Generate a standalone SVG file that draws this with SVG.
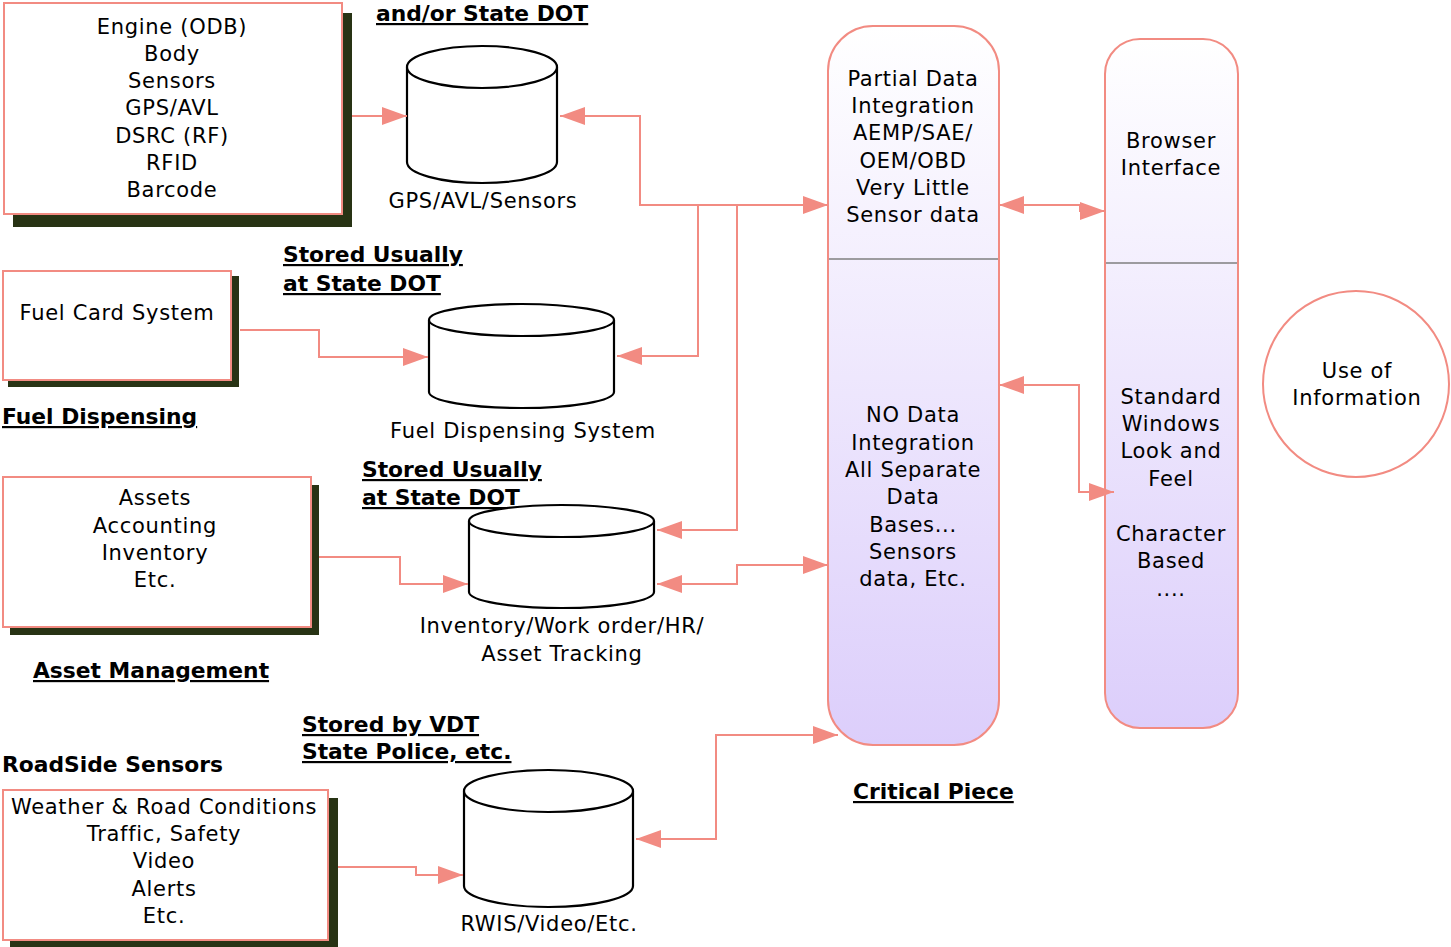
<svg xmlns="http://www.w3.org/2000/svg" width="1451" height="947" viewBox="0 0 1451 947">
  <style>
    .t { font-family: "DejaVu Sans", Verdana, sans-serif; font-size: 21px; letter-spacing: 0.7px; fill: #000; text-anchor: middle; }
    .h { font-family: "DejaVu Sans", Verdana, sans-serif; font-size: 21.8px; font-weight: bold; fill: #000; }
    .u { text-decoration: underline; }
    .box { fill: #fff; stroke: #f28b82; stroke-width: 2; }
    .shadow { fill: #283314; }
    .cyl { fill: #fff; stroke: #000; stroke-width: 2.2; }
    .col { fill: url(#colGrad); stroke: #f28b82; stroke-width: 2; }
    .div { stroke: #7f7f7f; stroke-width: 1.5; }
    .link { fill: none; stroke: #f28b82; stroke-width: 2; }
  </style>
  <defs>
    <linearGradient id="colGrad" x1="0" y1="0" x2="0" y2="1">
      <stop offset="0" stop-color="#ffffff"/>
      <stop offset="1" stop-color="#dccefb"/>
    </linearGradient>
    <marker id="arr" markerUnits="userSpaceOnUse" markerWidth="26" markerHeight="20" refX="25" refY="10" orient="auto-start-reverse">
      <path d="M0,1 L25,10 L0,19 z" fill="#f28b82"/>
    </marker>
  </defs>

  <rect width="1451" height="947" fill="#fff"/>

  <!-- vehicle data sources -->
  <g id="engine-box">
    <rect class="shadow" x="13" y="13" width="339" height="214"/>
    <rect class="box" x="4" y="3" width="338" height="211"/>
    <text class="t" x="172" y="34">Engine (ODB)</text>
    <text class="t" x="172" y="61">Body</text>
    <text class="t" x="172" y="88">Sensors</text>
    <text class="t" x="172" y="115">GPS/AVL</text>
    <text class="t" x="172" y="143">DSRC (RF)</text>
    <text class="t" x="172" y="170">RFID</text>
    <text class="t" x="172" y="197">Barcode</text>
  </g>

  <g id="fuel-card-box">
    <rect class="shadow" x="8" y="276" width="231" height="111"/>
    <rect class="box" x="3" y="271" width="228" height="109"/>
    <text class="t" x="117" y="320">Fuel Card System</text>
  </g>

  <g id="assets-box">
    <rect class="shadow" x="10" y="485" width="309" height="150"/>
    <rect class="box" x="3" y="477" width="308" height="150"/>
    <text class="t" x="155" y="505">Assets</text>
    <text class="t" x="155" y="533">Accounting</text>
    <text class="t" x="155" y="560">Inventory</text>
    <text class="t" x="155" y="587">Etc.</text>
  </g>

  <g id="roadside-box">
    <rect class="shadow" x="10" y="798" width="328" height="149"/>
    <rect class="box" x="3" y="790" width="325" height="150"/>
    <text class="t" x="164" y="814">Weather &amp; Road Conditions</text>
    <text class="t" x="164" y="841">Traffic, Safety</text>
    <text class="t" x="164" y="868">Video</text>
    <text class="t" x="164" y="896">Alerts</text>
    <text class="t" x="164" y="923">Etc.</text>
  </g>

  <!-- headings -->
  <g id="headings">
    <text class="h u" x="376" y="21">and/or State DOT</text>
    <text class="h u" x="283" y="262">Stored Usually</text>
    <text class="h u" x="283" y="291">at State DOT</text>
    <text class="h u" x="2" y="424">Fuel Dispensing</text>
    <text class="h u" x="362" y="477">Stored Usually</text>
    <text class="h u" x="362" y="505">at State DOT</text>
    <text class="h u" x="33" y="678">Asset Management</text>
    <text class="h u" x="302" y="732">Stored by VDT</text>
    <text class="h u" x="302" y="759">State Police, etc.</text>
    <text class="h" x="2" y="772">RoadSide Sensors</text>
    <text class="h u" x="853" y="799">Critical Piece</text>
  </g>

  <!-- data stores -->
  <g id="db-gps">
    <path class="cyl" d="M407,67 V162 A75,21 0 0 0 557,162 V67"/>
    <ellipse class="cyl" cx="482" cy="67" rx="75" ry="21"/>
    <text class="t" x="483" y="208">GPS/AVL/Sensors</text>
  </g>

  <g id="db-fuel">
    <path class="cyl" d="M429,320 V392 A92.5,16 0 0 0 614,392 V320"/>
    <ellipse class="cyl" cx="521.5" cy="320" rx="92.5" ry="16"/>
    <text class="t" x="523" y="438">Fuel Dispensing System</text>
  </g>

  <g id="db-inventory">
    <path class="cyl" d="M469,521 V592 A92.5,16 0 0 0 654,592 V521"/>
    <ellipse class="cyl" cx="561.5" cy="521" rx="92.5" ry="16"/>
    <text class="t" x="562" y="633">Inventory/Work order/HR/</text>
    <text class="t" x="562" y="661">Asset Tracking</text>
  </g>

  <g id="db-rwis">
    <path class="cyl" d="M464,791 V886 A84.5,21 0 0 0 633,886 V791"/>
    <ellipse class="cyl" cx="548.5" cy="791" rx="84.5" ry="21"/>
    <text class="t" x="549" y="931">RWIS/Video/Etc.</text>
  </g>

  <!-- integration column -->
  <g id="integration">
    <rect class="col" x="828" y="26" width="171" height="719" rx="45" ry="45"/>
    <line class="div" x1="829" y1="259" x2="998" y2="259"/>
    <text class="t" x="913" y="86">Partial Data</text>
    <text class="t" x="913" y="113">Integration</text>
    <text class="t" x="913" y="140">AEMP/SAE/</text>
    <text class="t" x="913" y="168">OEM/OBD</text>
    <text class="t" x="913" y="195">Very Little</text>
    <text class="t" x="913" y="222">Sensor data</text>
    <text class="t" x="913" y="422">NO Data</text>
    <text class="t" x="913" y="450">Integration</text>
    <text class="t" x="913" y="477">All Separate</text>
    <text class="t" x="913" y="504">Data</text>
    <text class="t" x="913" y="532">Bases...</text>
    <text class="t" x="913" y="559">Sensors</text>
    <text class="t" x="913" y="586">data, Etc.</text>
  </g>

  <!-- interface column -->
  <g id="interface">
    <rect class="col" x="1105" y="39" width="133" height="689" rx="35" ry="35"/>
    <line class="div" x1="1106" y1="263" x2="1237" y2="263"/>
    <text class="t" x="1171" y="148">Browser</text>
    <text class="t" x="1171" y="175">Interface</text>
    <text class="t" x="1171" y="404">Standard</text>
    <text class="t" x="1171" y="431">Windows</text>
    <text class="t" x="1171" y="458">Look and</text>
    <text class="t" x="1171" y="486">Feel</text>
    <text class="t" x="1171" y="541">Character</text>
    <text class="t" x="1171" y="568">Based</text>
    <text class="t" x="1171" y="596">....</text>
  </g>

  <g id="use-of-information">
    <circle cx="1356" cy="384" r="93" fill="#fff" stroke="#f28b82" stroke-width="2"/>
    <text class="t" x="1357" y="378">Use of</text>
    <text class="t" x="1357" y="405">Information</text>
  </g>

  <!-- connectors -->
  <g id="connectors">
    <path class="link" d="M352,116 H407" marker-end="url(#arr)"/>
    <path class="link" d="M560,116 H640 V205 H828" marker-start="url(#arr)" marker-end="url(#arr)"/>
    <path class="link" d="M698,205 V356 H617" marker-end="url(#arr)"/>
    <path class="link" d="M737,205 V530 H657" marker-end="url(#arr)"/>
    <path class="link" d="M240,330 H319 V357 H428" marker-end="url(#arr)"/>
    <path class="link" d="M319,557 H400 V584 H468" marker-end="url(#arr)"/>
    <path class="link" d="M657,584 H737 V565 H828" marker-start="url(#arr)" marker-end="url(#arr)"/>
    <path class="link" d="M338,867 H416 V875 H463" marker-end="url(#arr)"/>
    <path class="link" d="M636,839 H716 V735 H838" marker-start="url(#arr)" marker-end="url(#arr)"/>
    <path class="link" d="M999,205 H1080 V211 H1105" marker-start="url(#arr)" marker-end="url(#arr)"/>
    <path class="link" d="M999,385 H1079 V492 H1114" marker-start="url(#arr)" marker-end="url(#arr)"/>
  </g>
</svg>
